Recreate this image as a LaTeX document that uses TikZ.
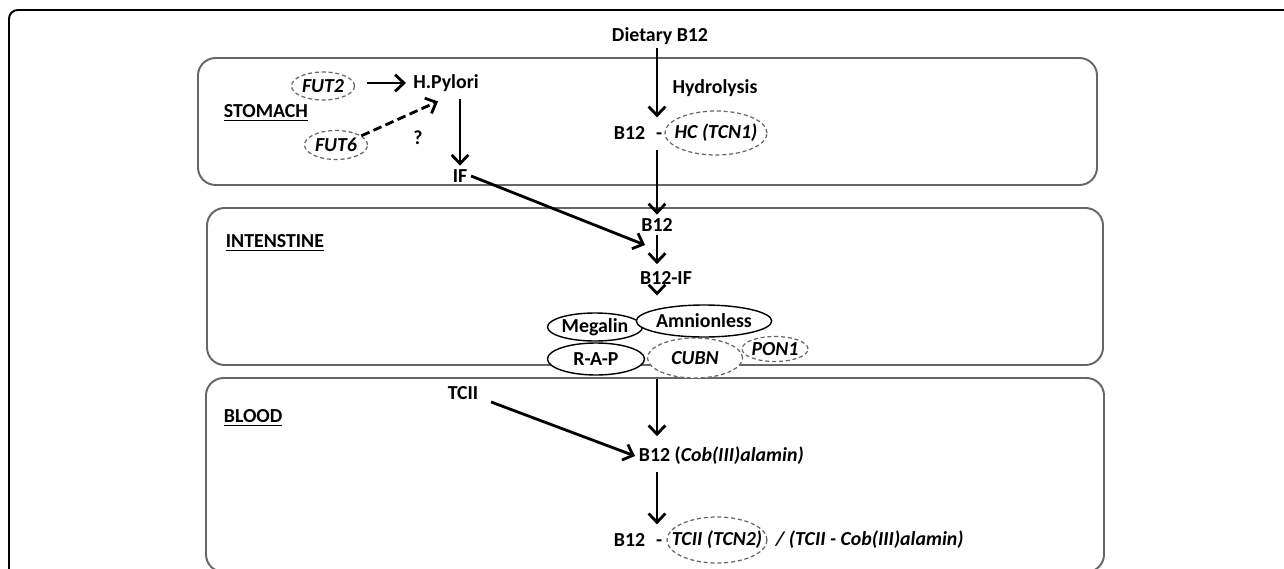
\documentclass[tikz,border=0pt]{standalone}
\usepackage{fontspec}
\setmainfont{Carlito}
\usetikzlibrary{arrows.meta,shapes.geometric}
\tikzset{
    flow/.style={line width=1.6pt,-{Straight Barb[length=5pt,width=9.5pt,line width=1.6pt]}},
    maybe/.style={flow,dash pattern=on 5pt off 2.5pt},
    gene/.style={ellipse,draw=black!60,dash pattern=on 2.3pt off 1.6pt,line width=0.7pt,fill=white,inner sep=0pt},
    prot/.style={ellipse,draw,line width=0.8pt,fill=white,inner sep=0pt},
    esize/.style 2 args={minimum width=#1*0.02cm,minimum height=#2*0.02cm},
    panel/.style={draw=black!60,line width=1.1pt,rounded corners=10pt},
    organ/.style={anchor=west}
}

\begin{document}
\begin{tikzpicture}[x=0.02cm,y=-0.02cm,font=\fontsize{11.3}{13.5}\selectfont\bfseries,inner sep=2pt]
\clip (0,0) rectangle (1284,568);
\draw[line width=1.1pt,rounded corners=5pt] (9,700) -- (9,10) -- (1400,10);

% compartments
\draw[panel] (198,58) rectangle (1097,185);
\draw[panel] (207,208) rectangle (1103,365);
\draw[panel] (206,378) rectangle (1104,572);
\node[organ] (stomach) at (220,113) {\underline{STOMACH}};
\node[organ] (intestine) at (222,243) {\underline{INTENSTINE}};
\node[organ] (blood) at (220,418) {\underline{BLOOD}};

% stomach
\node (diet) at (660,36) {Dietary B12};
\node (hydro) at (715,88) {Hydrolysis};
\node[anchor=west] (b12hc) at (610,133) {B12\hspace{0.55em}-};
\node[gene,esize={102}{44},label=center:\textit{HC (TCN1)}] (hc) at (716,133) {};
\node[gene,esize={63}{28},label=center:\textit{FUT2}] (fut2) at (323,86) {};
\node[gene,esize={63}{29},label=center:\textit{FUT6}] (fut6) at (336,145) {};
\node (hpylori) at (446,83) {H.Pylori};
\node (unknown) at (418,138) {?};
\node (if) at (460,176) {IF};

% intestine
\node (b12i) at (657,225) {B12};
\node (b12if) at (666,278) {B12-IF};
\coordinate (ifin) at (645,245);
\node[prot,esize={95}{28}] (megalin) at (595,327) {Megalin};
\node[prot,esize={97}{32}] (rap) at (596,359) {R-A-P};
\node[gene,esize={95}{40},label=center:\textit{CUBN}] (cubn) at (695,358) {};
\node[gene,esize={66}{25},label=center:\textit{PON1}] (pon1) at (775,349) {};
\node[prot,esize={128}{32}] (amnion) at (704,321) {Amnionless};

% blood
\node (tcii) at (463,393) {TCII};
\node[anchor=west] (b12cob) at (635,456) {B12 (\textit{Cob(III)alamin)}};
\node[anchor=west] (b12tc) at (610,540) {B12\hspace{0.55em}-};
\node[gene,esize={100}{46},label=center:\textit{TCII (TCN2)}] (tcn2) at (717,540) {};
\node[anchor=west] (complex) at (772,540) {\textit{/ (TCII - Cob(III)alamin)}};

% arrows
\draw[flow] (diet.south -| b12i) -- ([yshift=-4]hc.north -| b12i);
\draw[flow,shorten <=7pt,shorten >=2pt] (fut2.east |- hpylori) -- (hpylori.west);
\draw[maybe] (fut6.20) -- ([shift={(-8,6)}]hpylori.south);
\draw[flow,shorten <=2pt] (if |- hpylori.south) -- (if.north);
\draw[flow] ([yshift=3]hc.south -| b12i) -- (b12i.north);
\draw[flow] (if.east) -- (ifin);
\draw[flow,shorten >=2pt] (b12i.south) -- (b12i.south |- b12if.north);
\draw[flow,shorten <=2pt] (b12if.south -| b12i) -- ([yshift=5]amnion.north -| b12i);
\draw[flow,shorten >=4pt] (cubn.south -| b12i) -- (b12cob.north -| b12i);
\draw[flow] ([shift={(9,9)}]tcii.east) -- (b12cob.west);
\draw[flow,shorten <=2pt,shorten >=3pt] (b12cob.south -| b12i) -- (b12tc.north -| b12i);
\end{tikzpicture}
\end{document}
